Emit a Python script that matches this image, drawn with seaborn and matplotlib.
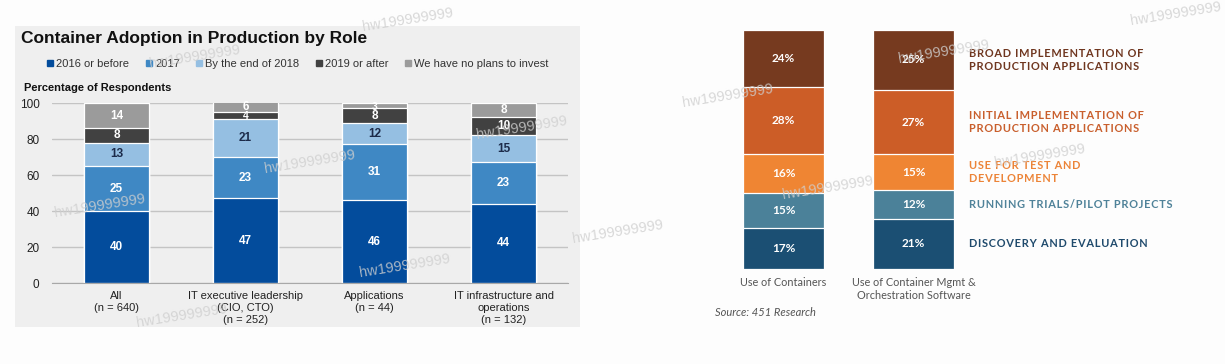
import numpy as np
import pandas as pd
import matplotlib
matplotlib.use("Agg")
import matplotlib.pyplot as plt
from matplotlib.lines import Line2D
from matplotlib.patches import Rectangle
import seaborn as sns

# left chart: adoption by role (percent of respondents)
ROLE_LABELS = [
    "All\n(n = 640)",
    "IT executive leadership\n(CIO, CTO)\n(n = 252)",
    "Applications\n(n = 44)",
    "IT infrastructure and\noperations\n(n = 132)",
]
ADOPTION_STAGES = [
    "2016 or before",
    "2017",
    "By the end of 2018",
    "2019 or after",
    "We have no plans to invest",
]
BEFORE_2016 = [40, 47, 46, 44]
YEAR_2017 = [25, 23, 31, 23]
END_OF_2018 = [13, 21, 12, 15]
AFTER_2019 = [8, 4, 8, 10]
NO_PLANS = [14, 6, 3, 8]
Y_TICKS = [0, 20, 40, 60, 80, 100]

# right chart: container usage stages
USAGE_LABELS = ["Use of Containers", "Use of Container Mgmt &\nOrchestration Software"]
USAGE_STAGES = [
    "DISCOVERY AND EVALUATION",
    "RUNNING TRIALS/PILOT PROJECTS",
    "USE FOR TEST AND\nDEVELOPMENT",
    "INITIAL IMPLEMENTATION OF\nPRODUCTION APPLICATIONS",
    "BROAD IMPLEMENTATION OF\nPRODUCTION APPLICATIONS",
]
DISCOVERY = [17, 21]
TRIALS = [15, 12]
TEST_DEV = [16, 15]
INITIAL_PROD = [28, 27]
BROAD_PROD = [24, 25]

ROLE_COLORS = ["#034c9c", "#3f88c4", "#95bfe2", "#414141", "#9b9b9b"]
ROLE_TEXT_COLORS = ["white", "white", "#1c2b4a", "white", "white"]
USAGE_COLORS = ["#1b4f73", "#4b8199", "#ef8533", "#cc5d27", "#763a1f"]
USAGE_TEXT_COLORS = ["#1f4a6c", "#4f8299", "#ec8438", "#c95f2d", "#6f361f"]

W, H = 1225, 364

sns.set_style("white")
plt.rcParams["font.family"] = ["Liberation Sans", "DejaVu Sans"]


def draw_stacked(ax, categories, series, colors, width):
    # seaborn has no stacking, so draw cumulative totals from the top layer down
    values = np.array(series, dtype=float)
    tops = values.cumsum(axis=0)
    for level in range(len(series) - 1, -1, -1):
        frame = pd.DataFrame({"category": categories, "top": tops[level]})
        sns.barplot(
            data=frame, x="category", y="top", color=colors[level],
            saturation=1, width=width, edgecolor="white", linewidth=0.9,
            errorbar=None, ax=ax,
        )
    return values, tops


def spaced(text):
    return "\n".join("\u200a".join(line) for line in text.split("\n"))


fig = plt.figure(figsize=(W / 100, H / 100), dpi=100, facecolor="#fdfdfd")

# grey panel behind the left chart
fig.patches.append(
    Rectangle((15 / W, 1 - 327 / H), 565 / W, 301 / H, transform=fig.transFigure,
              facecolor="#efefef", edgecolor="none", zorder=-1)
)

# ---------------- left chart ----------------
ax_left = fig.add_axes([52 / W, 1 - 283 / H, 516 / W, 180 / H])
ax_left.set_facecolor("none")
role_series = [BEFORE_2016, YEAR_2017, END_OF_2018, AFTER_2019, NO_PLANS]
role_values, role_tops = draw_stacked(ax_left, ROLE_LABELS, role_series, ROLE_COLORS, 0.5)

for level in range(len(role_series)):
    for i in range(len(ROLE_LABELS)):
        value = role_values[level, i]
        mid = min(role_tops[level, i] - value / 2, 97.8)
        ax_left.text(i, mid, f"{int(value)}", ha="center", va="center",
                     fontsize=8.5 if value > 5 else 7.5, fontweight="bold",
                     color=ROLE_TEXT_COLORS[level])

ax_left.set_xlim(-0.5, 3.5)
ax_left.set_ylim(0, 100)
ax_left.set_yticks(Y_TICKS)
ax_left.yaxis.grid(True, color="#c4c4c4", linewidth=1)
ax_left.set_axisbelow(True)
ax_left.tick_params(axis="y", length=0, pad=9, labelsize=8.5, labelcolor="#222222")
ax_left.tick_params(axis="x", length=0, pad=6, labelsize=8, labelcolor="#222222")
ax_left.set_xticks(range(len(ROLE_LABELS)))
ax_left.set_xticklabels(ROLE_LABELS, linespacing=1.25)
ax_left.set_xlabel("")
ax_left.set_ylabel("")
for side in ["top", "right", "left"]:
    ax_left.spines[side].set_visible(False)
ax_left.spines["bottom"].set_color("#a8a8a8")

fig.text(21 / W, 1 - 38 / H, "Container Adoption in Production by Role",
         fontsize=12.5, fontweight="bold", color="#111111", ha="left", va="center")
fig.text(24 / W, 1 - 88 / H, "Percentage of Respondents",
         fontsize=8, fontweight="bold", color="#111111", ha="left", va="center")

handles = [Line2D([], [], marker="s", linestyle="none", markersize=4,
                  markerfacecolor=c, markeredgecolor=c) for c in ROLE_COLORS]
fig.legend(handles, ADOPTION_STAGES, loc="center", bbox_to_anchor=(298 / W, 1 - 64 / H),
           ncol=5, frameon=False, fontsize=8, handlelength=0.5, handletextpad=0.3,
           columnspacing=1.5, labelcolor="#333333")

# ---------------- right chart ----------------
ax_right = fig.add_axes([718.5 / W, 1 - 269 / H, 260 / W, 239 / H])
ax_right.set_facecolor("none")
usage_series = [DISCOVERY, TRIALS, TEST_DEV, INITIAL_PROD, BROAD_PROD]
usage_values, usage_tops = draw_stacked(ax_right, USAGE_LABELS, usage_series, USAGE_COLORS, 0.62)

for level in range(len(usage_series)):
    for i in range(len(USAGE_LABELS)):
        mid = usage_tops[level, i] - usage_values[level, i] / 2
        ax_right.text(i, mid, f"{int(usage_values[level, i])}%", ha="center", va="center",
                      fontsize=8.5, fontweight="bold", color="white",
                      family=["Lato", "DejaVu Sans"])
    # stage names sit beside the second bar
    mid = usage_tops[level, 1] - usage_values[level, 1] / 2
    ax_right.text(1.425, mid, spaced(USAGE_STAGES[level]), ha="left", va="center",
                  fontsize=7.9, fontweight="bold", color=USAGE_TEXT_COLORS[level],
                  linespacing=1.2, family=["Lato", "DejaVu Sans"], clip_on=False)

ax_right.set_xlim(-0.5, 1.5)
ax_right.set_ylim(0, 100)
ax_right.set_yticks([])
ax_right.set_xticks(range(len(USAGE_LABELS)))
ax_right.set_xticklabels(USAGE_LABELS, linespacing=1.2)
ax_right.tick_params(axis="x", length=0, pad=6, labelsize=7.8, labelcolor="#555555")
for label in ax_right.get_xticklabels():
    label.set_family(["Lato", "DejaVu Sans"])
ax_right.set_xlabel("")
ax_right.set_ylabel("")
sns.despine(ax=ax_right, left=True, bottom=True)

fig.text(715 / W, 1 - 313 / H, "Source: 451 Research", fontsize=8, style="italic",
         color="#555555", ha="left", va="center", family=["Lato", "DejaVu Sans"])

# screenshot watermarks
for x, y in [(100, 206), (182, 316), (310, 162), (405, 266), (618, 232), (195, 57),
             (408, 20), (522, 128), (728, 96), (828, 188), (944, 52), (1040, 156),
             (1176, 14)]:
    fig.text(x / W, 1 - y / H, "hw199999999", fontsize=10.5, color="#cfcfcf",
             alpha=0.8, rotation=9, ha="center", va="center", zorder=10)

fig.savefig("out.png", dpi=100, facecolor=fig.get_facecolor())
